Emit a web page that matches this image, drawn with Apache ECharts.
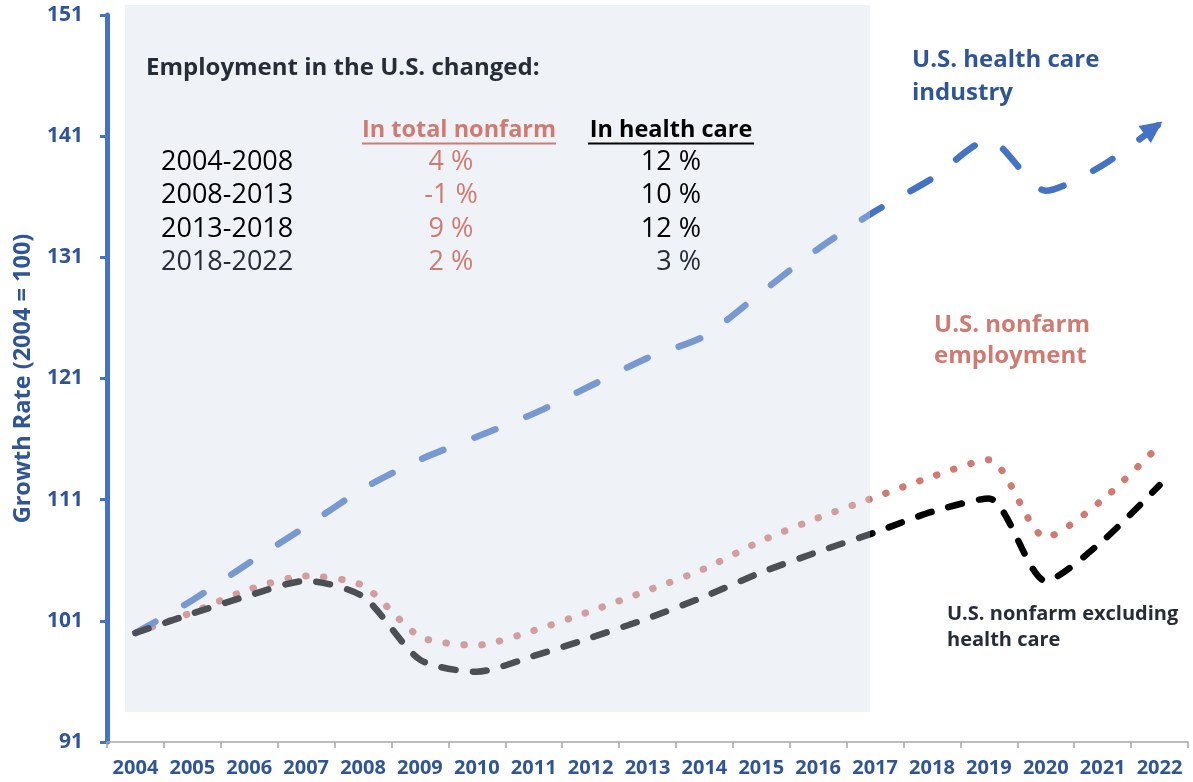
<!DOCTYPE html>
<html>
<head>
<meta charset="utf-8">
<title>Employment growth</title>
<script src="https://cdn.jsdelivr.net/npm/echarts@6/dist/echarts.min.js"></script>
<style>
  html, body { margin: 0; padding: 0; background: #fff; }
  #main { width: 1193px; height: 782px; }
</style>
</head>
<body>
<div id="main"></div>
<script>
// years on the x axis
var years = ['2004','2005','2006','2007','2008','2009','2010','2011','2012','2013',
             '2014','2015','2016','2017','2018','2019','2020','2021','2022'];

// growth index, 2004 = 100
var healthCare = [100, 102.7, 105.8, 108.8, 111.9, 114.3, 116.2, 118.1, 120.4, 122.7,
                  124.5, 128.1, 131.7, 134.8, 137.5, 140.7, 136.5, 138.6, 142.0];
var totalNonfarm = [100, 101.7, 103.6, 104.7, 103.9, 99.7, 99.0, 100.2, 101.8, 103.5,
                    105.3, 107.6, 109.5, 111.2, 112.9, 114.3, 107.9, 111.0, 115.5];
var nonfarmExHealth = [100, 101.6, 103.1, 104.3, 103.0, 97.8, 96.8, 98.1, 99.6, 101.2,
                       103.0, 105.0, 106.7, 108.3, 110.0, 111.1, 104.3, 107.6, 112.2];

// little table in the shaded box
var periods = ['2004-2008', '2008-2013', '2013-2018', '2018-2022'];
var nonfarmChange = ['4 %', '-1 %', '9 %', '2 %'];
var healthChange = ['12 %', '10 %', '12 %', '3 %'];

var FONT = '"Open Sans", Lato, sans-serif';
var BLUE = '#4472c4', DARKBLUE = '#2f5597', PINK = '#d07b72', INK = '#262c38';

var chart = echarts.init(document.getElementById('main'));

// health care line ends with an arrow head
var healthData = healthCare.map(function (v, i) {
  if (i === healthCare.length - 1) {
    return { value: v, symbol: 'triangle', symbolSize: [21, 22], symbolRotate: -54, symbolOffset: [-6, 4] };
  }
  return v;
});

var g = [];
// shaded box, drawn over the lines so they look faded
g.push({ type: 'rect', z: 50, silent: true,
  shape: { x: 125, y: 5, width: 745, height: 707 },
  style: { fill: 'rgba(211,220,234,0.36)' } });

g.push({ type: 'text', z: 60, x: 146, y: 68,
  style: { text: 'Employment in the U.S. changed:', fill: INK, font: 'bold 24px ' + FONT, verticalAlign: 'middle' } });

g.push({ type: 'text', z: 60, x: 459, y: 130,
  style: { text: 'In total nonfarm', fill: PINK, font: 'bold 23.5px ' + FONT, align: 'center', verticalAlign: 'middle' } });
g.push({ type: 'line', z: 60, shape: { x1: 362, y1: 143.5, x2: 556, y2: 143.5 }, style: { stroke: PINK, lineWidth: 2 } });
g.push({ type: 'text', z: 60, x: 671, y: 130,
  style: { text: 'In health care', fill: '#000', font: 'bold 23.5px ' + FONT, align: 'center', verticalAlign: 'middle' } });
g.push({ type: 'line', z: 60, shape: { x1: 588, y1: 143.5, x2: 754, y2: 143.5 }, style: { stroke: '#000', lineWidth: 2 } });

periods.forEach(function (p, i) {
  var y = 162 + i * 33.5;
  var c = i === 3 ? INK : '#000';
  g.push({ type: 'text', z: 60, x: 161, y: y,
    style: { text: p, fill: c, font: '27px ' + FONT, verticalAlign: 'middle' } });
  g.push({ type: 'text', z: 60, x: 451, y: y,
    style: { text: nonfarmChange[i], fill: PINK, font: '27px ' + FONT, align: 'center', verticalAlign: 'middle' } });
  g.push({ type: 'text', z: 60, x: 701, y: y,
    style: { text: healthChange[i], fill: c, font: '27px ' + FONT, align: 'right', verticalAlign: 'middle' } });
});

// series labels on the right
g.push({ type: 'text', z: 60, x: 912, y: 60,
  style: { text: 'U.S. health care', fill: DARKBLUE, font: 'bold 24px ' + FONT, verticalAlign: 'middle' } });
g.push({ type: 'text', z: 60, x: 912, y: 93,
  style: { text: 'industry', fill: DARKBLUE, font: 'bold 24px ' + FONT, verticalAlign: 'middle' } });
g.push({ type: 'text', z: 60, x: 934, y: 325,
  style: { text: 'U.S. nonfarm', fill: PINK, font: 'bold 24px ' + FONT, verticalAlign: 'middle' } });
g.push({ type: 'text', z: 60, x: 934, y: 356,
  style: { text: 'employment', fill: PINK, font: 'bold 24px ' + FONT, verticalAlign: 'middle' } });
g.push({ type: 'text', z: 60, x: 947, y: 614,
  style: { text: 'U.S. nonfarm excluding', fill: INK, font: 'bold 20px ' + FONT, verticalAlign: 'middle' } });
g.push({ type: 'text', z: 60, x: 947, y: 640,
  style: { text: 'health care', fill: INK, font: 'bold 20px ' + FONT, verticalAlign: 'middle' } });

var option = {
  backgroundColor: '#fff',
  animation: false,
  grid: { left: 107, right: 5, top: 15, bottom: 40, outerBoundsMode: 'none', containLabel: false },
  xAxis: {
    type: 'category',
    data: years,
    boundaryGap: true,
    axisLine: { lineStyle: { color: '#a6a6a6', width: 1.5 } },
    axisTick: { show: true, length: 6, lineStyle: { color: '#a6a6a6', width: 1.5 } },
    axisLabel: { interval: 0, hideOverlap: false, margin: 16, color: DARKBLUE,
                 fontFamily: FONT, fontWeight: 'bold', fontSize: 20 },
    splitLine: { show: false }
  },
  yAxis: {
    type: 'value',
    min: 91, max: 151, interval: 10,
    name: 'Growth Rate (2004 = 100)',
    nameLocation: 'middle',
    nameRotate: 90,
    nameGap: 72,
    nameTextStyle: { color: DARKBLUE, fontFamily: FONT, fontWeight: 'bold', fontSize: 23.5 },
    axisLine: { show: true, lineStyle: { color: BLUE, width: 5 } },
    axisTick: { show: true, length: 7, lineStyle: { color: BLUE, width: 3 } },
    axisLabel: { margin: 24, color: DARKBLUE, fontFamily: FONT, fontWeight: 'bold', fontSize: 21 },
    splitLine: { show: false }
  },
  series: [
    {
      name: 'U.S. health care industry',
      type: 'line',
      data: healthData,
      smooth: 0.25,
      symbol: 'none',
      showSymbol: true,
      itemStyle: { color: BLUE, borderWidth: 0 },
      lineStyle: { color: BLUE, width: 6.5, type: [23, 33], cap: 'round' },
      z: 3
    },
    {
      name: 'U.S. nonfarm employment',
      type: 'line',
      data: totalNonfarm,
      smooth: 0.25,
      symbol: 'none',
      lineStyle: { color: PINK, width: 7, type: [0.5, 17.5], cap: 'round' },
      z: 2
    },
    {
      name: 'U.S. nonfarm excluding health care',
      type: 'line',
      data: nonfarmExHealth,
      smooth: 0.25,
      symbol: 'none',
      lineStyle: { color: '#000', width: 6.5, type: [14, 17.5], cap: 'round' },
      z: 4
    }
  ],
  graphic: { elements: g }
};

chart.setOption(option);
</script>
</body>
</html>
